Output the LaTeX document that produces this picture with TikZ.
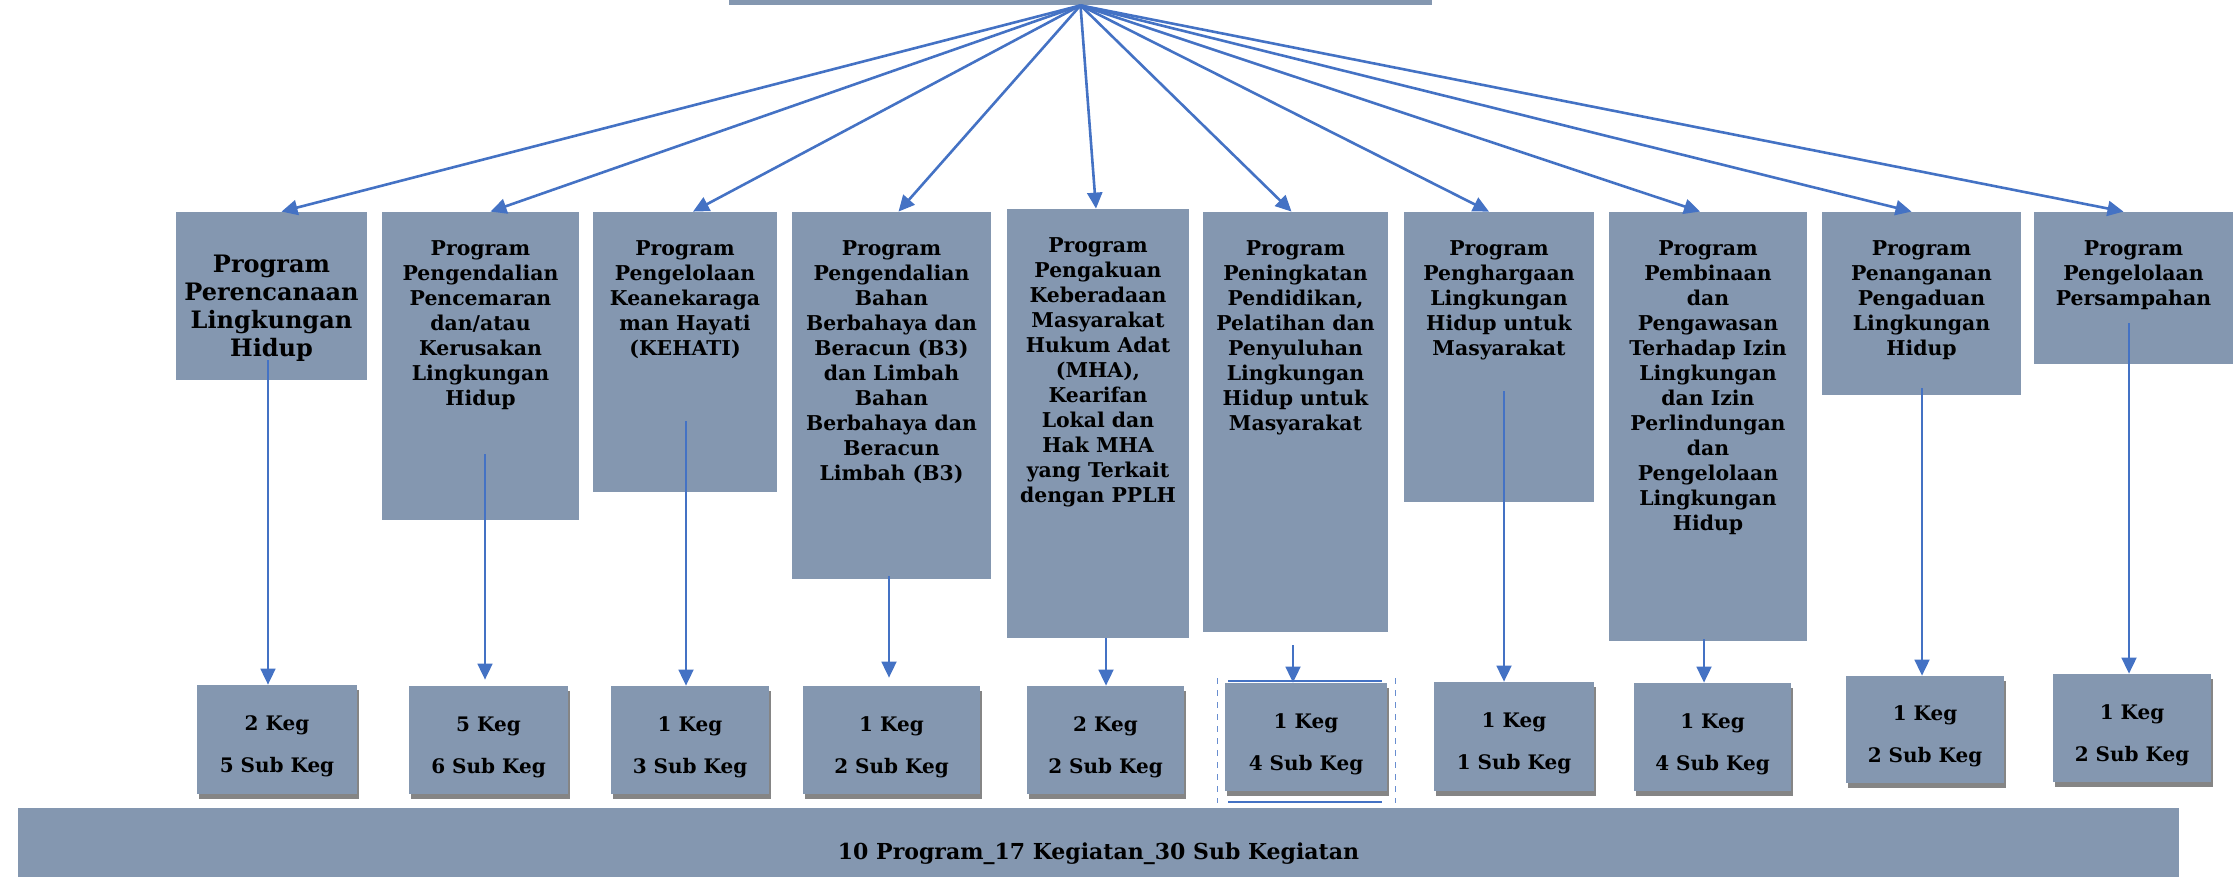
\documentclass[tikz,border=0pt]{standalone}
\usepackage{fontspec}
\setmainfont{DejaVu Serif}
\usetikzlibrary{arrows.meta,fit,calc,shadows}
\definecolor{boxfill}{HTML}{8497B0}
\definecolor{arrowblue}{HTML}{4472C4}
\begin{document}
\begin{tikzpicture}[x=0.5pt,y=-0.5pt,
  progbox/.style={fill=boxfill,draw=none,inner sep=0pt},
  progtext/.style={anchor=north,align=center,inner sep=0pt,font=\bfseries\fontsize{10.2}{12.5}\selectfont},
  bigtext/.style={anchor=north,align=center,inner sep=0pt,font=\bfseries\fontsize{12}{14}\selectfont},
  kegbox/.style={fill=boxfill,draw=none,inner sep=0pt,
     drop shadow={shadow xshift=1pt,shadow yshift=-2.5pt,fill=black!80,opacity=0.6}},
  kegtext/.style={align=center,inner sep=0pt,font=\bfseries\fontsize{10}{21}\selectfont},
  fan/.style={draw=arrowblue,line width=1.3pt,-{Triangle[length=8pt,width=7.5pt]}},
  varrow/.style={draw=arrowblue,line width=0.9pt,-{Triangle[length=8pt,width=7.5pt]}},
  selline/.style={draw=arrowblue,line width=1.2pt},
  seldash/.style={draw=arrowblue!80,line width=0.5pt,dashed}
]
\useasboundingbox (0,0) rectangle (2239,879);

% top box
\node[progbox,fit={(729,-30) (1432,5)}] (top) {};

% program boxes
\node[progbox,fit={(176,212) (367,380)}] (p1) {};
\node[progbox,fit={(382,212) (579,520)}] (p2) {};
\node[progbox,fit={(593,212) (777,492)}] (p3) {};
\node[progbox,fit={(792,212) (991,579)}] (p4) {};
\node[progbox,fit={(1007,209) (1189,638)}] (p5) {};
\node[progbox,fit={(1203,212) (1388,632)}] (p6) {};
\node[progbox,fit={(1404,212) (1594,502)}] (p7) {};
\node[progbox,fit={(1609,212) (1807,641)}] (p8) {};
\node[progbox,fit={(1822,212) (2021,395)}] (p9) {};
\node[progbox,fit={(2034,212) (2233,364)}] (p10) {};

% program texts
\node[bigtext] (t1) at ($(p1.north)+(0,43)$) {Program\\Perencanaan\\Lingkungan\\Hidup};
\node[progtext] (t2) at ($(p2.north)+(0,29)$) {Program\\Pengendalian\\Pencemaran\\dan/atau\\Kerusakan\\Lingkungan\\Hidup};
\node[progtext] (t3) at ($(p3.north)+(0,29)$) {Program\\Pengelolaan\\Keanekaraga\\man Hayati\\(KEHATI)};
\node[progtext] (t4) at ($(p4.north)+(0,29)$) {Program\\Pengendalian\\Bahan\\Berbahaya dan\\Beracun (B3)\\dan Limbah\\Bahan\\Berbahaya dan\\Beracun\\Limbah (B3)};
\node[progtext] (t5) at ($(p5.north)+(0,29)$) {Program\\Pengakuan\\Keberadaan\\Masyarakat\\Hukum Adat\\(MHA),\\Kearifan\\Lokal dan\\Hak MHA\\yang Terkait\\dengan PPLH};
\node[progtext] (t6) at ($(p6.north)+(0,29)$) {Program\\Peningkatan\\Pendidikan,\\Pelatihan dan\\Penyuluhan\\Lingkungan\\Hidup untuk\\Masyarakat};
\node[progtext] (t7) at ($(p7.north)+(0,29)$) {Program\\Penghargaan\\Lingkungan\\Hidup untuk\\Masyarakat};
\node[progtext] (t8) at ($(p8.north)+(0,29)$) {Program\\Pembinaan\\dan\\Pengawasan\\Terhadap Izin\\Lingkungan\\dan Izin\\Perlindungan\\dan\\Pengelolaan\\Lingkungan\\Hidup};
\node[progtext] (t9) at ($(p9.north)+(0,29)$) {Program\\Penanganan\\Pengaduan\\Lingkungan\\Hidup};
\node[progtext] (t10) at ($(p10.north)+(0,29)$) {Program\\Pengelolaan\\Persampahan};

% bottom bar
\node[progbox,fit={(18,808) (2179,877)}] (bar) {};
\node[inner sep=0pt,font=\bfseries\fontsize{11}{12}\selectfont] (bartext) at ($(bar.center)+(0,11)$) {10 Program\_17 Kegiatan\_30 Sub Kegiatan};

% keg boxes
\node[kegbox,fit={(197,685) (357,794)}] (k1) {};
\node[kegbox,fit={(409,686) (568,794)}] (k2) {};
\node[kegbox,fit={(611,686) (769,794)}] (k3) {};
\node[kegbox,fit={(803,686) (980,794)}] (k4) {};
\node[kegbox,fit={(1027,686) (1184,794)}] (k5) {};
\node[kegbox,fit={(1225,683) (1387,791)}] (k6) {};
\node[kegbox,fit={(1434,682) (1594,791)}] (k7) {};
\node[kegbox,fit={(1634,683) (1791,791)}] (k8) {};
\node[kegbox,fit={(1846,676) (2004,783)}] (k9) {};
\node[kegbox,fit={(2053,674) (2211,782)}] (k10) {};

\node[kegtext] (kt1) at ($(k1.center)+(0,7)$) {2 Keg\\5 Sub Keg};
\node[kegtext] (kt2) at ($(k2.center)+(0,7)$) {5 Keg\\6 Sub Keg};
\node[kegtext] (kt3) at ($(k3.center)+(0,7)$) {1 Keg\\3 Sub Keg};
\node[kegtext] (kt4) at ($(k4.center)+(0,7)$) {1 Keg\\2 Sub Keg};
\node[kegtext] (kt5) at ($(k5.center)+(0,7)$) {2 Keg\\2 Sub Keg};
\node[kegtext] (kt6) at ($(k6.center)+(0,7)$) {1 Keg\\4 Sub Keg};
\node[kegtext] (kt7) at ($(k7.center)+(0,7)$) {1 Keg\\1 Sub Keg};
\node[kegtext] (kt8) at ($(k8.center)+(0,7)$) {1 Keg\\4 Sub Keg};
\node[kegtext] (kt9) at ($(k9.center)+(0,7)$) {1 Keg\\2 Sub Keg};
\node[kegtext] (kt10) at ($(k10.center)+(0,7)$) {1 Keg\\2 Sub Keg};

% selection frame around k6
\draw[selline] (1228,681) -- (1382,681);
\draw[selline] (1228,802) -- (1382,802);
\draw[seldash] (1217,678) -- (1217,803);
\draw[seldash] (1395,678) -- (1395,803);

% fan arrows
\draw[fan] (top.south) -- ($(p1.north)+(10,0)$);
\draw[fan] (top.south) -- ($(p2.north)+(10,0)$);
\draw[fan] (top.south) -- ($(p3.north)+(8,0)$);
\draw[fan] (top.south) -- ($(p4.north)+(7,0)$);
\draw[fan] (top.south) -- ($(p5.north)+(-2,0)$);
\draw[fan] (top.south) -- ($(p6.north)+(-4,0)$);
\draw[fan] (top.south) -- ($(p7.north)+(-10,0)$);
\draw[fan] (top.south) -- ($(p8.north)+(-8,0)$);
\draw[fan] (top.south) -- ($(p9.north)+(-10,0)$);
\draw[fan] (top.south) -- ($(p10.north)+(-10,0)$);

% vertical arrows
\coordinate (s1) at (268,360);
\coordinate (s2) at (485,454);
\coordinate (s3) at (686,421);
\coordinate (s4) at (889,576);
\coordinate (s5) at (1106,638);
\coordinate (s6) at (1293,645);
\coordinate (s7) at (1504,391);
\coordinate (s8) at (1704,639);
\coordinate (s9) at (1922,388);
\coordinate (s10) at (2129,323);
\draw[varrow] (s1) -- (s1 |- k1.north);
\draw[varrow] (s2) -- ($(s2 |- k2.north)+(0,-6)$);
\draw[varrow] (s3) -- (s3 |- k3.north);
\draw[varrow] (s4) -- ($(s4 |- k4.north)+(0,-8)$);
\draw[varrow] (s5) -- (s5 |- k5.north);
\draw[varrow] (s6) -- (s6 |- k6.north);
\draw[varrow] (s7) -- (s7 |- k7.north);
\draw[varrow] (s8) -- (s8 |- k8.north);
\draw[varrow] (s9) -- (s9 |- k9.north);
\draw[varrow] (s10) -- (s10 |- k10.north);
\end{tikzpicture}
\end{document}
